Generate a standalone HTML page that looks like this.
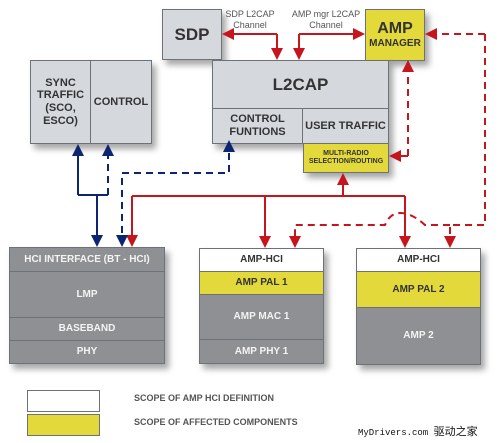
<!DOCTYPE html>
<html><head><style>
body{margin:0;width:500px;height:443px;background:#fff;overflow:hidden;position:relative;font-family:"Liberation Sans","Noto Sans CJK SC",sans-serif}
.b{position:absolute;box-sizing:border-box;border:1px solid #6d7278;display:flex;align-items:center;justify-content:center;text-align:center;font-weight:bold;font-family:"Liberation Sans Narrow","Liberation Sans",sans-serif;line-height:1.15}
.lg{background:#d5d9de;color:#333}
.dg{background:#8e9093;color:#f4f4f4;font-size:10px}
.y{background:#e3d93a;color:#333}
.w{background:#fff;color:#333}
.sh{box-shadow:4px 5px 6px rgba(0,0,0,.35)}
.t{position:absolute;font-size:9px;color:#555;text-align:center;line-height:1.2}
</style></head><body>
<div class="b lg sh" style="left:162px;top:9px;width:60px;height:51px;font-size:17px">SDP</div>
<div class="b y sh" style="left:365px;top:9px;width:60px;height:52px;font-size:10px;flex-direction:column"><span style="font-size:16px">AMP</span>MANAGER</div>
<div class="b lg sh" style="left:30px;top:60px;width:122px;height:84px"></div>
<div class="b lg" style="left:30px;top:60px;width:61px;height:84px;font-size:11px">SYNC<br>TRAFFIC<br>(SCO,<br>ESCO)</div>
<div class="b lg" style="left:90px;top:60px;width:62px;height:84px;font-size:11px">CONTROL</div>
<div class="b lg sh" style="left:212px;top:60px;width:177px;height:84px"></div>
<div class="b lg" style="left:212px;top:60px;width:177px;height:49px;font-size:17px">L2CAP</div>
<div class="b lg" style="left:212px;top:108px;width:91px;height:36px;font-size:11px">CONTROL<br>FUNTIONS</div>
<div class="b lg" style="left:302px;top:108px;width:87px;height:36px;font-size:11px">USER TRAFFIC</div>
<div class="b y sh" style="left:303px;top:143px;width:86px;height:30px;font-size:7px">MULTI-RADIO<br>SELECTION/ROUTING</div>
<div class="t" style="left:222px;top:9px;width:56px">SDP L2CAP<br>Channel</div>
<div class="t" style="left:290px;top:9px;width:72px">AMP mgr L2CAP<br>Channel</div>

<div class="sh" style="position:absolute;left:9px;top:247px;width:156px;height:117px"></div>
<div class="b dg" style="left:9px;top:247px;width:156px;height:25px">HCI INTERFACE (BT - HCI)</div>
<div class="b dg" style="left:9px;top:271px;width:156px;height:47px">LMP</div>
<div class="b dg" style="left:9px;top:317px;width:156px;height:24px">BASEBAND</div>
<div class="b dg" style="left:9px;top:340px;width:156px;height:24px">PHY</div>

<div class="sh" style="position:absolute;left:199px;top:248px;width:125px;height:116px"></div>
<div class="b w" style="left:199px;top:248px;width:125px;height:24px;font-size:10px">AMP-HCI</div>
<div class="b y" style="left:199px;top:271px;width:125px;height:24px;font-size:10px">AMP PAL 1</div>
<div class="b dg" style="left:199px;top:294px;width:125px;height:46px">AMP MAC 1</div>
<div class="b dg" style="left:199px;top:339px;width:125px;height:25px">AMP PHY 1</div>

<div class="sh" style="position:absolute;left:356px;top:248px;width:125px;height:117px"></div>
<div class="b w" style="left:356px;top:248px;width:125px;height:24px;font-size:10px">AMP-HCI</div>
<div class="b y" style="left:356px;top:271px;width:125px;height:37px;font-size:10px">AMP PAL 2</div>
<div class="b dg" style="left:356px;top:307px;width:125px;height:58px">AMP 2</div>

<div class="b w" style="left:27px;top:390px;width:73px;height:22px"></div>
<div class="b y" style="left:27px;top:414px;width:73px;height:22px"></div>
<div style="position:absolute;left:134px;top:393px;font-size:9px;font-weight:bold;color:#555;font-family:'Liberation Sans Narrow','Liberation Sans',sans-serif">SCOPE OF AMP HCI DEFINITION</div>
<div style="position:absolute;left:134px;top:417px;font-size:9px;font-weight:bold;color:#555;font-family:'Liberation Sans Narrow','Liberation Sans',sans-serif">SCOPE OF AFFECTED COMPONENTS</div>
<div style="position:absolute;left:358px;top:423px;font-size:9px;color:#111;font-family:'Liberation Mono','Noto Sans CJK SC',monospace">MyDrivers.com <span style="font-family:'Noto Sans CJK SC',sans-serif;font-size:11px">驱动之家</span></div>

<svg width="500" height="443" style="position:absolute;left:0;top:0" fill="none">
<defs>
<marker id="r" markerWidth="6" markerHeight="6" refX="5" refY="3" orient="auto"><path d="M0,0L6,3L0,6z" fill="#c4161c"/></marker>
<marker id="bl" markerWidth="6" markerHeight="6" refX="5" refY="3" orient="auto"><path d="M0,0L6,3L0,6z" fill="#0d2470"/></marker>
</defs>
<g stroke="#c4161c" stroke-width="2">
<path d="M277,34H224" marker-end="url(#r)"/><path d="M277,34V58" marker-end="url(#r)"/>
<path d="M299,34H363" marker-end="url(#r)"/><path d="M299,34V58" marker-end="url(#r)"/>
<path d="M343,196V175" marker-end="url(#r)"/>
<path d="M132,196H405"/>
<path d="M132,196V245" marker-end="url(#r)"/>
<path d="M265,196V246" marker-end="url(#r)"/>
<path d="M405,196V246" marker-end="url(#r)"/>
</g>
<g stroke="#c4161c" stroke-width="2" stroke-dasharray="7,5">
<path d="M485,34H427" marker-end="url(#r)"/>
<path d="M485,34V225H450V246" marker-end="url(#r)"/>
<path d="M450,225H425Q412,213 400,213Q390,213 385,225H295V246" marker-end="url(#r)"/>
<path d="M408,156V62" marker-end="url(#r)"/>
<path d="M408,156H391" marker-end="url(#r)"/>
</g>
<g stroke="#0d2470" stroke-width="2">
<path d="M78,195V146" marker-end="url(#bl)"/>
<path d="M78,195H108"/>
<path d="M97,195V245" marker-end="url(#bl)"/>
</g>
<g stroke="#0d2470" stroke-width="2" stroke-dasharray="7,5">
<path d="M108,195V146" marker-end="url(#bl)"/>
<path d="M122,245V173H229V142" marker-end="url(#bl)"/>
<path d="M122,236V245" marker-end="url(#bl)"/>
</g>
</svg>
</body></html>
